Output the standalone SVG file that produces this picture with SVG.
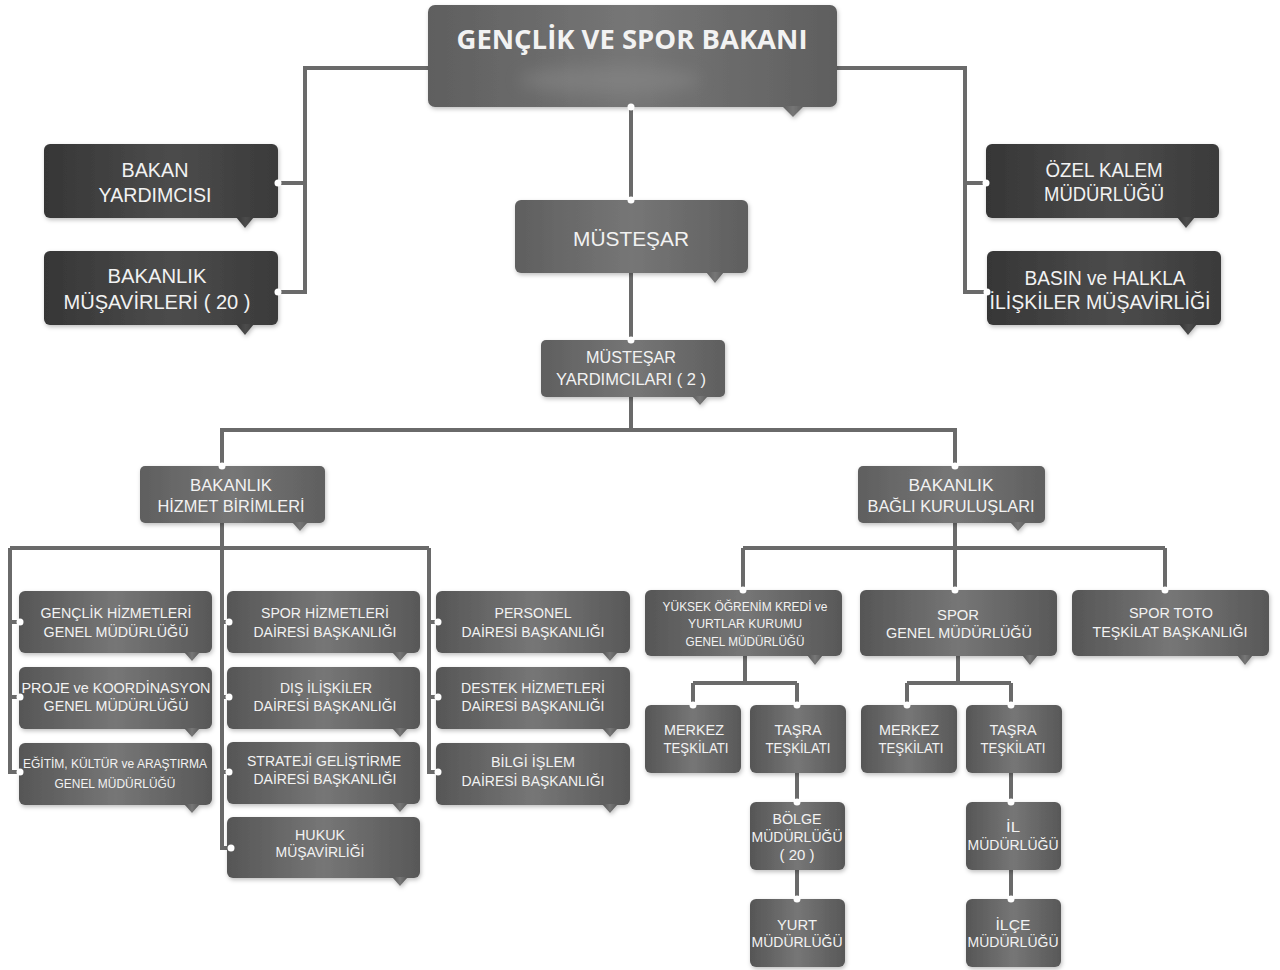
<svg xmlns="http://www.w3.org/2000/svg" width="1280" height="970" viewBox="0 0 1280 970">
<defs>
<linearGradient id="gTop" x1="0" y1="0" x2="1" y2="0">
<stop offset="0" stop-color="#5f5f5f"/><stop offset="0.5" stop-color="#767676"/><stop offset="1" stop-color="#5f5f5f"/>
</linearGradient>
<linearGradient id="gDark" x1="0" y1="0" x2="1" y2="0">
<stop offset="0" stop-color="#363636"/><stop offset="0.55" stop-color="#4c4c4c"/><stop offset="1" stop-color="#3a3a3a"/>
</linearGradient>
<linearGradient id="gMid" x1="0" y1="0" x2="1" y2="0">
<stop offset="0" stop-color="#565656"/><stop offset="0.5" stop-color="#767676"/><stop offset="1" stop-color="#585858"/>
</linearGradient>
<filter id="sh" x="-10%" y="-10%" width="120%" height="140%">
<feDropShadow dx="1" dy="2" stdDeviation="2" flood-color="#000" flood-opacity="0.25"/>
</filter>
<filter id="blur" x="-50%" y="-50%" width="200%" height="200%"><feGaussianBlur stdDeviation="8"/></filter>
</defs>
<style>
.top{fill:url(#gTop)}
.dark{fill:url(#gDark)}
.mid{fill:url(#gMid)}
.box{filter:url(#sh)}
text{font-family:"Liberation Sans","DejaVu Sans",sans-serif;fill:#f2f2f2;text-anchor:middle}
.t27{font-family:"Open Sans","Liberation Sans",sans-serif;font-weight:bold;font-size:27px}
.t20{font-size:20px}
.t16{font-size:16px}
.t14{font-size:14px}
.t12{font-size:12px}
.ln{fill:none;stroke:#6a6a6a;stroke-width:4}
.dot{fill:#ffffff}
</style>

<g id="connectors">
<path class="ln" d="M428 68 H305 V292 H278 M305 183 H278"/>
<path class="ln" d="M837 68 H965 V292 H987 M965 183 H986"/>
<path class="ln" d="M631 107 V200"/>
<path class="ln" d="M631 273 V340"/>
<path class="ln" d="M631 397 V430 M222 466 V430 H955 V466"/>
<path class="ln" d="M222 523 V848 H227 M10 548 H429 M10 548 V772 H19 M10 622 H19 M10 697 H19 M222 622 H227 M222 697 H227 M222 772 H227 M429 548 V772 H436 M429 622 H436 M429 697 H436"/>
<path class="ln" d="M955 523 V590 M743 548 H1165 M743 548 V590 M1165 548 V590"/>
<path class="ln" d="M745 656 V683 M693 683 H797 M693 683 V705 M797 683 V705 M797 773 V802 M797 870 V899"/>
<path class="ln" d="M958 656 V683 M907 683 H1011 M907 683 V705 M1011 683 V705 M1011 773 V802 M1011 870 V899"/>
</g>

<g id="n-bakan">
<g class="box"><rect class="top" x="428" y="5" width="409" height="102" rx="7"/><polygon class="top" points="782,106 804,106 793,117"/></g>
<ellipse cx="610" cy="80" rx="90" ry="14" fill="#8a8a8a" opacity="0.5" filter="url(#blur)"/>
<text class="t27" x="632" y="49" textLength="351" lengthAdjust="spacingAndGlyphs">GENÇLİK VE SPOR BAKANI</text>
<circle class="dot" cx="631" cy="107" r="3.5"/>
</g>

<g id="n-bakan-yardimcisi">
<g class="box"><rect class="dark" x="44" y="144" width="234" height="74" rx="6"/><polygon class="dark" points="236,217 254,217 245,228"/></g>
<text class="t20" x="155" y="177" textLength="67" lengthAdjust="spacingAndGlyphs">BAKAN</text>
<text class="t20" x="155" y="202" textLength="113" lengthAdjust="spacingAndGlyphs">YARDIMCISI</text>
<circle class="dot" cx="278" cy="183" r="3.5"/>
</g>

<g id="n-bakanlik-musavirleri">
<g class="box"><rect class="dark" x="44" y="251" width="234" height="74" rx="6"/><polygon class="dark" points="236,324 254,324 245,335"/></g>
<text class="t20" x="157" y="283" textLength="99" lengthAdjust="spacingAndGlyphs">BAKANLIK</text>
<text class="t20" x="157" y="309" textLength="187" lengthAdjust="spacingAndGlyphs">MÜŞAVİRLERİ ( 20 )</text>
<circle class="dot" cx="278" cy="292" r="3.5"/>
</g>

<g id="n-ozel-kalem">
<g class="box"><rect class="dark" x="986" y="144" width="233" height="74" rx="6"/><polygon class="dark" points="1177,217 1195,217 1186,228"/></g>
<text class="t20" x="1104" y="177" textLength="117" lengthAdjust="spacingAndGlyphs">ÖZEL KALEM</text>
<text class="t20" x="1104" y="201" textLength="120" lengthAdjust="spacingAndGlyphs">MÜDÜRLÜĞÜ</text>
<circle class="dot" cx="986" cy="183" r="3.5"/>
</g>

<g id="n-basin">
<g class="box"><rect class="dark" x="987" y="251" width="234" height="74" rx="6"/><polygon class="dark" points="1179,324 1197,324 1188,335"/></g>
<text class="t20" x="1105" y="285" textLength="161" lengthAdjust="spacingAndGlyphs">BASIN ve HALKLA</text>
<text class="t20" x="1100" y="309" textLength="221" lengthAdjust="spacingAndGlyphs">İLİŞKİLER MÜŞAVİRLİĞİ</text>
<circle class="dot" cx="987" cy="292" r="3.5"/>
</g>

<g id="n-mustesar">
<g class="box"><rect class="top" x="515" y="200" width="233" height="73" rx="6"/><polygon class="top" points="706,272 724,272 715,283"/></g>
<text class="t20" x="631" y="246" style="font-size:21px" textLength="116" lengthAdjust="spacingAndGlyphs">MÜSTEŞAR</text>
<circle class="dot" cx="631" cy="200" r="3.5"/>
</g>

<g id="n-mustesar-yardimcilari">
<g class="box"><rect class="top" x="541" y="340" width="184" height="57" rx="5"/><polygon class="top" points="692,396 708,396 700,405"/></g>
<text class="t16" x="631" y="363" textLength="90" lengthAdjust="spacingAndGlyphs">MÜSTEŞAR</text>
<text class="t16" x="631" y="385" textLength="150" lengthAdjust="spacingAndGlyphs">YARDIMCILARI ( 2 )</text>
<circle class="dot" cx="631" cy="340" r="3.5"/>
</g>

<g id="n-hizmet-birimleri">
<g class="box"><rect class="top" x="140" y="466" width="185" height="57" rx="5"/><polygon class="top" points="292,522 308,522 300,531"/></g>
<text class="t16" x="231" y="491" textLength="82" lengthAdjust="spacingAndGlyphs">BAKANLIK</text>
<text class="t16" x="231" y="512" textLength="147" lengthAdjust="spacingAndGlyphs">HİZMET BİRİMLERİ</text>
<circle class="dot" cx="222" cy="466" r="3.5"/>
</g>

<g id="n-bagli-kuruluslari">
<g class="box"><rect class="top" x="858" y="466" width="187" height="57" rx="5"/><polygon class="top" points="1010,522 1026,522 1018,531"/></g>
<text class="t16" x="951" y="491" textLength="85" lengthAdjust="spacingAndGlyphs">BAKANLIK</text>
<text class="t16" x="951" y="512" textLength="167" lengthAdjust="spacingAndGlyphs">BAĞLI KURULUŞLARI</text>
<circle class="dot" cx="955" cy="466" r="3.5"/>
</g>

<!-- left column -->
<g id="n-genclik-hizmetleri">
<g class="box"><rect class="mid" x="19" y="591" width="193" height="62" rx="6"/><polygon class="mid" points="184,652 200,652 192,661"/></g>
<text class="t14" x="116" y="618" textLength="151" lengthAdjust="spacingAndGlyphs">GENÇLİK HİZMETLERİ</text>
<text class="t14" x="116" y="637" textLength="145" lengthAdjust="spacingAndGlyphs">GENEL MÜDÜRLÜĞÜ</text>
<circle class="dot" cx="20" cy="622" r="3.5"/>
</g>
<g id="n-proje">
<g class="box"><rect class="mid" x="19" y="667" width="193" height="62" rx="6"/><polygon class="mid" points="184,728 200,728 192,737"/></g>
<text class="t14" x="116" y="693" textLength="189" lengthAdjust="spacingAndGlyphs">PROJE ve KOORDİNASYON</text>
<text class="t14" x="116" y="711" textLength="145" lengthAdjust="spacingAndGlyphs">GENEL MÜDÜRLÜĞÜ</text>
<circle class="dot" cx="20" cy="697" r="3.5"/>
</g>
<g id="n-egitim">
<g class="box"><rect class="mid" x="19" y="743" width="193" height="62" rx="6"/><polygon class="mid" points="184,804 200,804 192,813"/></g>
<text class="t12" x="115" y="768" textLength="184" lengthAdjust="spacingAndGlyphs">EĞİTİM, KÜLTÜR ve ARAŞTIRMA</text>
<text class="t12" x="115" y="788" textLength="121" lengthAdjust="spacingAndGlyphs">GENEL MÜDÜRLÜĞÜ</text>
<circle class="dot" cx="20" cy="772" r="3.5"/>
</g>

<!-- middle column -->
<g id="n-spor-hizmetleri">
<g class="box"><rect class="mid" x="227" y="591" width="193" height="62" rx="6"/><polygon class="mid" points="392,652 408,652 400,661"/></g>
<text class="t14" x="325" y="618" textLength="128" lengthAdjust="spacingAndGlyphs">SPOR HİZMETLERİ</text>
<text class="t14" x="325" y="637" textLength="143" lengthAdjust="spacingAndGlyphs">DAİRESİ BAŞKANLIĞI</text>
<circle class="dot" cx="229" cy="622" r="3.5"/>
</g>
<g id="n-dis-iliskiler">
<g class="box"><rect class="mid" x="227" y="667" width="193" height="62" rx="6"/><polygon class="mid" points="392,728 408,728 400,737"/></g>
<text class="t14" x="326" y="693" textLength="92" lengthAdjust="spacingAndGlyphs">DIŞ İLİŞKİLER</text>
<text class="t14" x="325" y="711" textLength="143" lengthAdjust="spacingAndGlyphs">DAİRESİ BAŞKANLIĞI</text>
<circle class="dot" cx="229" cy="697" r="3.5"/>
</g>
<g id="n-strateji">
<g class="box"><rect class="mid" x="227" y="742" width="193" height="62" rx="6"/><polygon class="mid" points="392,803 408,803 400,812"/></g>
<text class="t14" x="324" y="766" textLength="154" lengthAdjust="spacingAndGlyphs">STRATEJİ GELİŞTİRME</text>
<text class="t14" x="325" y="784" textLength="143" lengthAdjust="spacingAndGlyphs">DAİRESİ BAŞKANLIĞI</text>
<circle class="dot" cx="229" cy="772" r="3.5"/>
</g>
<g id="n-hukuk">
<g class="box"><rect class="mid" x="227" y="817" width="193" height="61" rx="6"/><polygon class="mid" points="392,877 408,877 400,886"/></g>
<text class="t14" x="320" y="840" textLength="50" lengthAdjust="spacingAndGlyphs">HUKUK</text>
<text class="t14" x="320" y="857" textLength="89" lengthAdjust="spacingAndGlyphs">MÜŞAVİRLİĞİ</text>
<circle class="dot" cx="231" cy="848" r="3.5"/>
</g>

<!-- right column -->
<g id="n-personel">
<g class="box"><rect class="mid" x="436" y="591" width="194" height="62" rx="6"/><polygon class="mid" points="602,652 618,652 610,661"/></g>
<text class="t14" x="533" y="618" textLength="77" lengthAdjust="spacingAndGlyphs">PERSONEL</text>
<text class="t14" x="533" y="637" textLength="143" lengthAdjust="spacingAndGlyphs">DAİRESİ BAŞKANLIĞI</text>
<circle class="dot" cx="438" cy="622" r="3.5"/>
</g>
<g id="n-destek">
<g class="box"><rect class="mid" x="436" y="667" width="194" height="62" rx="6"/><polygon class="mid" points="602,728 618,728 610,737"/></g>
<text class="t14" x="533" y="693" textLength="144" lengthAdjust="spacingAndGlyphs">DESTEK HİZMETLERİ</text>
<text class="t14" x="533" y="711" textLength="143" lengthAdjust="spacingAndGlyphs">DAİRESİ BAŞKANLIĞI</text>
<circle class="dot" cx="438" cy="697" r="3.5"/>
</g>
<g id="n-bilgi-islem">
<g class="box"><rect class="mid" x="436" y="743" width="194" height="62" rx="6"/><polygon class="mid" points="602,804 618,804 610,813"/></g>
<text class="t14" x="533" y="767" textLength="84" lengthAdjust="spacingAndGlyphs">BİLGİ İŞLEM</text>
<text class="t14" x="533" y="786" textLength="143" lengthAdjust="spacingAndGlyphs">DAİRESİ BAŞKANLIĞI</text>
<circle class="dot" cx="438" cy="772" r="3.5"/>
</g>

<!-- bağlı kuruluşlar -->
<g id="n-yok">
<g class="box"><rect class="mid" x="645" y="590" width="197" height="66" rx="6"/><polygon class="mid" points="807,655 823,655 815,665"/></g>
<text class="t12" x="745" y="611" textLength="165" lengthAdjust="spacingAndGlyphs">YÜKSEK ÖĞRENİM KREDİ ve</text>
<text class="t12" x="745" y="628" textLength="114" lengthAdjust="spacingAndGlyphs">YURTLAR KURUMU</text>
<text class="t12" x="745" y="646" textLength="119" lengthAdjust="spacingAndGlyphs">GENEL MÜDÜRLÜĞÜ</text>
<circle class="dot" cx="743" cy="590" r="3.5"/>
</g>
<g id="n-spor-gm">
<g class="box"><rect class="mid" x="860" y="590" width="197" height="66" rx="6"/><polygon class="mid" points="1022,655 1038,655 1030,665"/></g>
<text class="t14" x="958" y="620" textLength="42" lengthAdjust="spacingAndGlyphs">SPOR</text>
<text class="t14" x="959" y="638" textLength="146" lengthAdjust="spacingAndGlyphs">GENEL MÜDÜRLÜĞÜ</text>
<circle class="dot" cx="955" cy="590" r="3.5"/>
</g>
<g id="n-spor-toto">
<g class="box"><rect class="mid" x="1072" y="590" width="197" height="66" rx="6"/><polygon class="mid" points="1237,655 1253,655 1245,665"/></g>
<text class="t14" x="1171" y="618" textLength="84" lengthAdjust="spacingAndGlyphs">SPOR TOTO</text>
<text class="t14" x="1170" y="637" textLength="155" lengthAdjust="spacingAndGlyphs">TEŞKİLAT BAŞKANLIĞI</text>
<circle class="dot" cx="1165" cy="590" r="3.5"/>
</g>

<g id="n-yok-merkez">
<rect class="mid box" x="645" y="705" width="96" height="68" rx="6"/>
<text class="t14" x="694" y="735" textLength="60" lengthAdjust="spacingAndGlyphs">MERKEZ</text>
<text class="t14" x="696" y="753" textLength="65" lengthAdjust="spacingAndGlyphs">TEŞKİLATI</text>
<circle class="dot" cx="693" cy="705" r="3.5"/>
</g>
<g id="n-yok-tasra">
<rect class="mid box" x="750" y="705" width="96" height="68" rx="6"/>
<text class="t14" x="798" y="735" textLength="47" lengthAdjust="spacingAndGlyphs">TAŞRA</text>
<text class="t14" x="798" y="753" textLength="65" lengthAdjust="spacingAndGlyphs">TEŞKİLATI</text>
<circle class="dot" cx="797" cy="705" r="3.5"/>
</g>
<g id="n-bolge">
<rect class="mid box" x="750" y="802" width="95" height="68" rx="6"/>
<text class="t14" x="797" y="824" textLength="49" lengthAdjust="spacingAndGlyphs">BÖLGE</text>
<text class="t14" x="797" y="842" textLength="91" lengthAdjust="spacingAndGlyphs">MÜDÜRLÜĞÜ</text>
<text class="t14" x="797" y="860" textLength="35" lengthAdjust="spacingAndGlyphs">( 20 )</text>
<circle class="dot" cx="797" cy="802" r="3.5"/>
</g>
<g id="n-yurt">
<rect class="mid box" x="750" y="899" width="95" height="68" rx="6"/>
<text class="t14" x="797" y="930" textLength="40" lengthAdjust="spacingAndGlyphs">YURT</text>
<text class="t14" x="797" y="947" textLength="91" lengthAdjust="spacingAndGlyphs">MÜDÜRLÜĞÜ</text>
<circle class="dot" cx="797" cy="899" r="3.5"/>
</g>

<g id="n-spor-merkez">
<rect class="mid box" x="861" y="705" width="96" height="68" rx="6"/>
<text class="t14" x="909" y="735" textLength="60" lengthAdjust="spacingAndGlyphs">MERKEZ</text>
<text class="t14" x="911" y="753" textLength="65" lengthAdjust="spacingAndGlyphs">TEŞKİLATI</text>
<circle class="dot" cx="907" cy="705" r="3.5"/>
</g>
<g id="n-spor-tasra">
<rect class="mid box" x="966" y="705" width="96" height="68" rx="6"/>
<text class="t14" x="1013" y="735" textLength="47" lengthAdjust="spacingAndGlyphs">TAŞRA</text>
<text class="t14" x="1013" y="753" textLength="65" lengthAdjust="spacingAndGlyphs">TEŞKİLATI</text>
<circle class="dot" cx="1011" cy="705" r="3.5"/>
</g>
<g id="n-il">
<rect class="mid box" x="966" y="802" width="95" height="68" rx="6"/>
<text class="t14" x="1013" y="832" textLength="14" lengthAdjust="spacingAndGlyphs">İL</text>
<text class="t14" x="1013" y="850" textLength="91" lengthAdjust="spacingAndGlyphs">MÜDÜRLÜĞÜ</text>
<circle class="dot" cx="1011" cy="802" r="3.5"/>
</g>
<g id="n-ilce">
<rect class="mid box" x="966" y="899" width="95" height="68" rx="6"/>
<text class="t14" x="1013" y="930" textLength="35" lengthAdjust="spacingAndGlyphs">İLÇE</text>
<text class="t14" x="1013" y="947" textLength="91" lengthAdjust="spacingAndGlyphs">MÜDÜRLÜĞÜ</text>
<circle class="dot" cx="1011" cy="899" r="3.5"/>
</g>
</svg>
